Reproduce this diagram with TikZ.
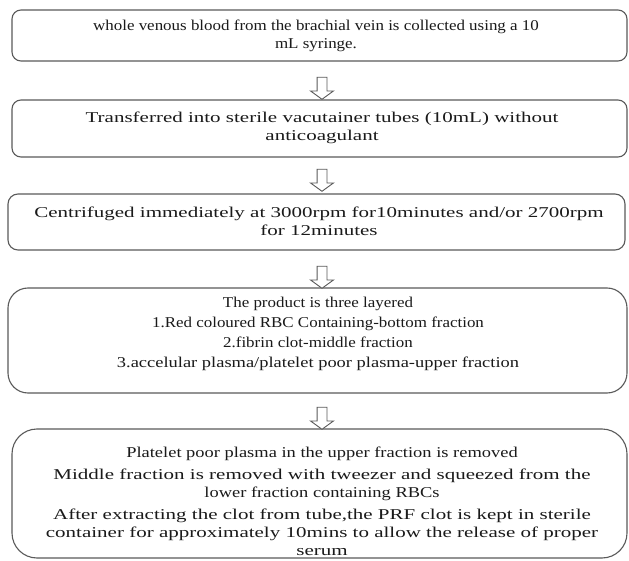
\documentclass[tikz,border=0pt]{standalone}
\usepackage{fontspec}
\setmainfont{Liberation Serif}
\newfontfamily\fa{Liberation Serif}[FakeStretch=1.13]
\newfontfamily\fb{Liberation Serif}[FakeStretch=1.23]
\newfontfamily\fc{Liberation Serif}[FakeStretch=1.4]
\usetikzlibrary{shapes.arrows}
\definecolor{boxgray}{HTML}{5A5A5A}
\definecolor{txtcol}{HTML}{1A1A1A}
\tikzset{
  flowbox/.style={draw=boxgray, line width=1.1pt, inner sep=0pt},
  txt/.style={text=txtcol, align=center, inner sep=0pt, font=\fontsize{15}{18}\selectfont},
  downarrow/.style={shape=single arrow, draw=boxgray, line width=0.9pt, fill=white,
    shape border rotate=270, minimum height=22pt, minimum width=22pt,
    single arrow head extend=6.5pt, single arrow tip angle=108, inner sep=4.5pt}
}
\begin{document}
\begin{tikzpicture}[x=1pt,y=-1pt]
\useasboundingbox[fill=white] (0,0) rectangle (629,561);
% boxes
\node[flowbox, rounded corners=9pt, minimum width=615pt, minimum height=51pt] (b1) at (319.5,35.5) {};
\node[flowbox, rounded corners=9pt, minimum width=615pt, minimum height=57pt] (b2) at (319.5,128.5) {};
\node[flowbox, rounded corners=10pt, minimum width=617pt, minimum height=56pt] (b3) at (316.5,222) {};
\node[flowbox, rounded corners=20pt, minimum width=619pt, minimum height=105pt] (b4) at (317.5,340.5) {};
\node[flowbox, rounded corners=25pt, minimum width=615pt, minimum height=129pt] (b5) at (319.5,493.5) {};
% texts
\node[txt] (t1) at (316,36) {\fa whole venous blood from the brachial vein is collected using a 10\\ \fa mL syringe.};
\node[txt] (t2) at (322,128) {\fc Transferred into sterile vacutainer tubes (10mL) without\\ \fc anticoagulant};
\node[txt] (t3) at (319,221) {\fc Centrifuged immediately at 3000rpm for10minutes and/or 2700rpm\\ \fc for 12minutes};
\node[txt] (t4) at (318,334) {\fa The product is three layered\\[2pt] \fa 1.Red coloured RBC Containing-bottom fraction\\[2pt] \fa 2.fibrin clot-middle fraction\\[2pt] \fb 3.accelular plasma/platelet poor plasma-upper fraction};
\node[txt] (t5) at (322,501) {\fb Platelet poor plasma in the upper fraction is removed\\[4pt] \fc Middle fraction is removed with tweezer and squeezed from the\\ \fb lower fraction containing RBCs\\[4pt] \fc After extracting the clot from tube,the PRF clot is kept in sterile\\ \fc container for approximately 10mins to allow the release of proper\\ \fc serum};
% arrows
\node[downarrow] (a1) at (322,86.5) {};
\node[downarrow] (a2) at (322,178.5) {};
\node[downarrow] (a3) at (322,275.5) {};
\node[downarrow] (a4) at (322,416.5) {};
\end{tikzpicture}
\end{document}
